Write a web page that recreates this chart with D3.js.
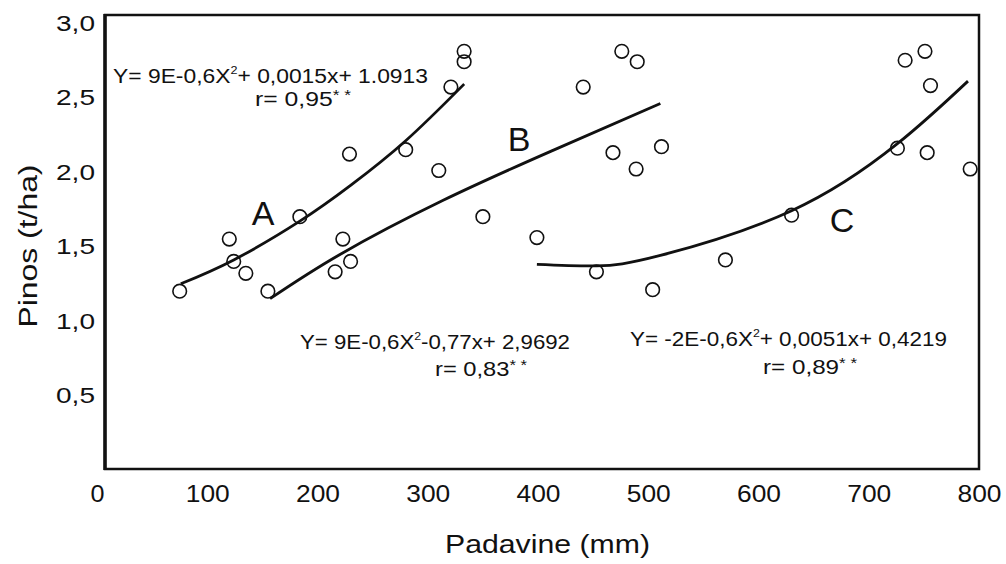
<!DOCTYPE html>
<html>
<head>
<meta charset="utf-8">
<script src="https://cdn.jsdelivr.net/npm/d3@7"></script>
<style>
  body { margin: 0; background: #fff; }
  text { font-family: "Liberation Sans", Arial, Helvetica, sans-serif; fill: #111; }
</style>
</head>
<body>
<div id="chart"></div>
<script>
// rainfall (mm) and yield (t/ha) of each observation
var padavine = [75, 120, 124, 135, 155, 184, 216, 223, 230, 229, 280, 310, 321, 333, 333,
                350, 399, 441, 453, 468, 476, 489, 490, 504, 512, 570, 630, 726, 733, 751, 753, 756, 792];
var pinos = [1.20, 1.55, 1.40, 1.32, 1.20, 1.70, 1.33, 1.55, 1.40, 2.12, 2.15, 2.01, 2.57, 2.81, 2.74,
             1.70, 1.56, 2.57, 1.33, 2.13, 2.81, 2.02, 2.74, 1.21, 2.17, 1.41, 1.71, 2.16, 2.75, 2.81, 2.13, 2.58, 2.02];

// fitted curves
var curveA = [[76, 1.25], [124, 1.41], [184, 1.67], [230, 1.91], [280, 2.21], [333, 2.59]];
var curveB = [[157, 1.15], [220, 1.445], [314, 1.81], [412, 2.14], [511, 2.46]];
var curveC = [[399, 1.38], [453, 1.37], [511, 1.44], [630, 1.74], [726, 2.19], [790, 2.61]];

var xTicks = [0, 100, 200, 300, 400, 500, 600, 700, 800];
var yTicks = [0.5, 1.0, 1.5, 2.0, 2.5, 3.0];

const WIDTH = 1006;
const HEIGHT = 564;

var x = d3.scaleLinear().domain([0, 800]).range([97, 979]);
var y = d3.scaleLinear().domain([0, 3]).range([470, 23]);

var svg = d3.select('#chart').append('svg')
    .attr('width', WIDTH)
    .attr('height', HEIGHT);

// frame
svg.append('rect')
    .attr('x', 105).attr('y', 15)
    .attr('width', 874).attr('height', 454)
    .attr('fill', 'none')
    .attr('stroke', '#111')
    .attr('stroke-width', 2.5);
svg.append('line')
    .attr('x1', 105).attr('x2', 105)
    .attr('y1', 14).attr('y2', 470)
    .attr('stroke', '#111')
    .attr('stroke-width', 3.5);

// axes (labels only, no tick marks)
var xAxis = svg.append('g')
    .attr('transform', 'translate(0,469)')
    .call(d3.axisBottom(x).tickValues(xTicks).tickSize(0).tickPadding(16).tickFormat(d3.format('d')));
xAxis.select('.domain').remove();
xAxis.selectAll('text')
    .attr('font-size', 24)
    .attr('fill', '#111')
    .style('font-family', '"Liberation Sans", Arial, sans-serif')
    .attr('textLength', function (d) { return d === 0 ? 14 : 44; })
    .attr('lengthAdjust', 'spacingAndGlyphs');

var yAxis = svg.append('g')
    .attr('transform', 'translate(105,0)')
    .call(d3.axisLeft(y).tickValues(yTicks).tickSize(0).tickPadding(10).tickFormat(function (d) {
        return d3.format('.1f')(d).replace('.', ',');
    }));
yAxis.select('.domain').remove();
yAxis.selectAll('text')
    .attr('font-size', 22)
    .attr('fill', '#111')
    .style('font-family', '"Liberation Sans", Arial, sans-serif')
    .attr('textLength', 39)
    .attr('lengthAdjust', 'spacingAndGlyphs');

// axis titles
svg.append('text')
    .attr('transform', 'translate(37,246) rotate(-90)')
    .attr('text-anchor', 'middle')
    .attr('font-size', 25)
    .attr('textLength', 163)
    .attr('lengthAdjust', 'spacingAndGlyphs')
    .text('Pinos (t/ha)');
svg.append('text')
    .attr('x', 445).attr('y', 553)
    .attr('font-size', 25)
    .attr('textLength', 205)
    .attr('lengthAdjust', 'spacingAndGlyphs')
    .text('Padavine (mm)');

// regression curves
var line = d3.line()
    .x(function (d) { return x(d[0]); })
    .y(function (d) { return y(d[1]); })
    .curve(d3.curveNatural);

svg.selectAll('path.fit').data([curveA, curveB, curveC])
    .enter().append('path')
    .attr('class', 'fit')
    .attr('d', line)
    .attr('fill', 'none')
    .attr('stroke', '#111')
    .attr('stroke-width', 2.8);

// observations
svg.selectAll('circle').data(d3.range(padavine.length))
    .enter().append('circle')
    .attr('cx', function (i) { return x(padavine[i]); })
    .attr('cy', function (i) { return y(pinos[i]); })
    .attr('r', 6.8)
    .attr('fill', 'none')
    .attr('stroke', '#111')
    .attr('stroke-width', 1.6);

// curve letters
var letters = [['A', 263, 225], ['B', 519, 151], ['C', 842, 232]];
svg.selectAll('text.letter').data(letters)
    .enter().append('text')
    .attr('class', 'letter')
    .attr('x', function (d) { return d[1]; })
    .attr('y', function (d) { return d[2]; })
    .attr('text-anchor', 'middle')
    .attr('font-size', 34)
    .text(function (d) { return d[0]; });

// equations
function equation (x0, y0, len, pre, post) {
    var t = svg.append('text')
        .attr('x', x0).attr('y', y0)
        .attr('font-size', 20)
        .attr('textLength', len)
        .attr('lengthAdjust', 'spacingAndGlyphs');
    t.append('tspan').text(pre);
    t.append('tspan').attr('font-size', 11).attr('dy', -9).text('2');
    t.append('tspan').attr('dy', 9).text(post);
}
function rValue (x0, y0, len, r) {
    var t = svg.append('text')
        .attr('x', x0).attr('y', y0)
        .attr('font-size', 20)
        .attr('textLength', len)
        .attr('lengthAdjust', 'spacingAndGlyphs');
    t.append('tspan').text('r= ' + r);
    t.append('tspan').attr('font-size', 14).attr('dy', -6).text('* *');
}

equation(113, 83, 315, 'Y= 9E-0,6X', '+ 0,0015x+ 1.0913');
rValue(255, 106, 96, '0,95');
equation(300, 349, 270, 'Y= 9E-0,6X', '-0,77x+ 2,9692');
rValue(435, 376, 92, '0,83');
equation(630, 346, 317, 'Y= -2E-0,6X', '+ 0,0051x+ 0,4219');
rValue(763, 374, 94, '0,89');
</script>
</body>
</html>
